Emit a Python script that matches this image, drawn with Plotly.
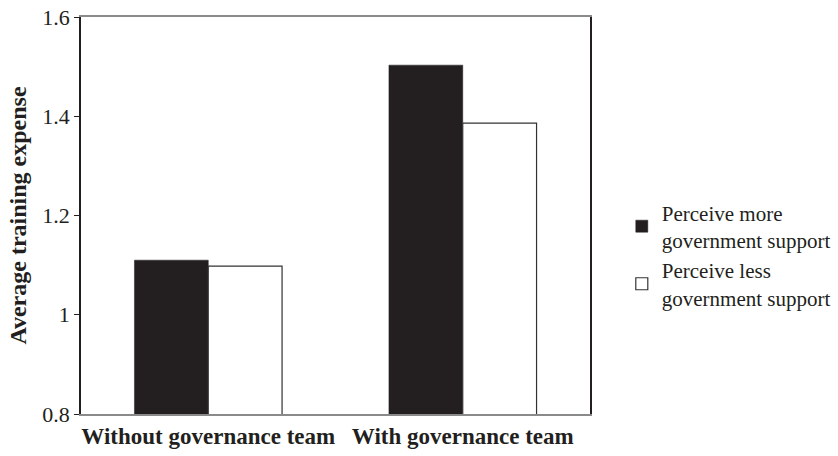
import plotly.graph_objects as go

categories = ["Without governance team", "With governance team"]
more_support = [1.11, 1.503]
less_support = [1.098, 1.386]
series_names = ["Perceive more<br>government support", "Perceive less<br>government support"]
y_ticks = [0.8, 1.0, 1.2, 1.4, 1.6]
y_ticklabels = ["0.8", "1", "1.2", "1.4", "1.6"]

FONT = "Liberation Serif"

fig = go.Figure()
fig.add_trace(go.Bar(
    x=categories, y=more_support, name=series_names[0],
    marker=dict(color="#231f20", line=dict(color="#231f20", width=0.5)),
))
fig.add_trace(go.Bar(
    x=categories, y=less_support, name=series_names[1],
    marker=dict(color="white", line=dict(color="#333333", width=1.2)),
))

fig.update_layout(
    width=838, height=456,
    margin=dict(l=81, r=248, t=17, b=42, autoexpand=False),
    paper_bgcolor="white", plot_bgcolor="white",
    barmode="group", bargap=0.42, bargroupgap=0,
    font=dict(family=FONT, color="#231f20"),
    legend=dict(
        xref="container", yref="container",
        x=0.742, y=0.44, xanchor="left", yanchor="middle",
        font=dict(family=FONT, size=21, color="#231f20"),
        itemwidth=30, tracegroupgap=0,
    ),
    showlegend=True,
)
fig.update_xaxes(
    automargin=False,
    showline=True, linecolor="#8a8a8a", linewidth=2, mirror=True,
    ticks="", showgrid=False,
    tickfont=dict(family=FONT, size=23, color="#231f20", weight="bold"),
)
fig.update_yaxes(
    automargin=False,
    range=[0.8, 1.6], tickvals=y_ticks, ticktext=y_ticklabels,
    showline=True, linecolor="#231f20", linewidth=1.5, mirror=True,
    ticks="outside", ticklen=5, tickcolor="#231f20", showgrid=False,
    tickfont=dict(family=FONT, size=22, color="#231f20"),
    title=dict(text="<b>Average training expense</b>",
               font=dict(family=FONT, size=24, color="#231f20"), standoff=9),
)

fig.write_html("out.html")
